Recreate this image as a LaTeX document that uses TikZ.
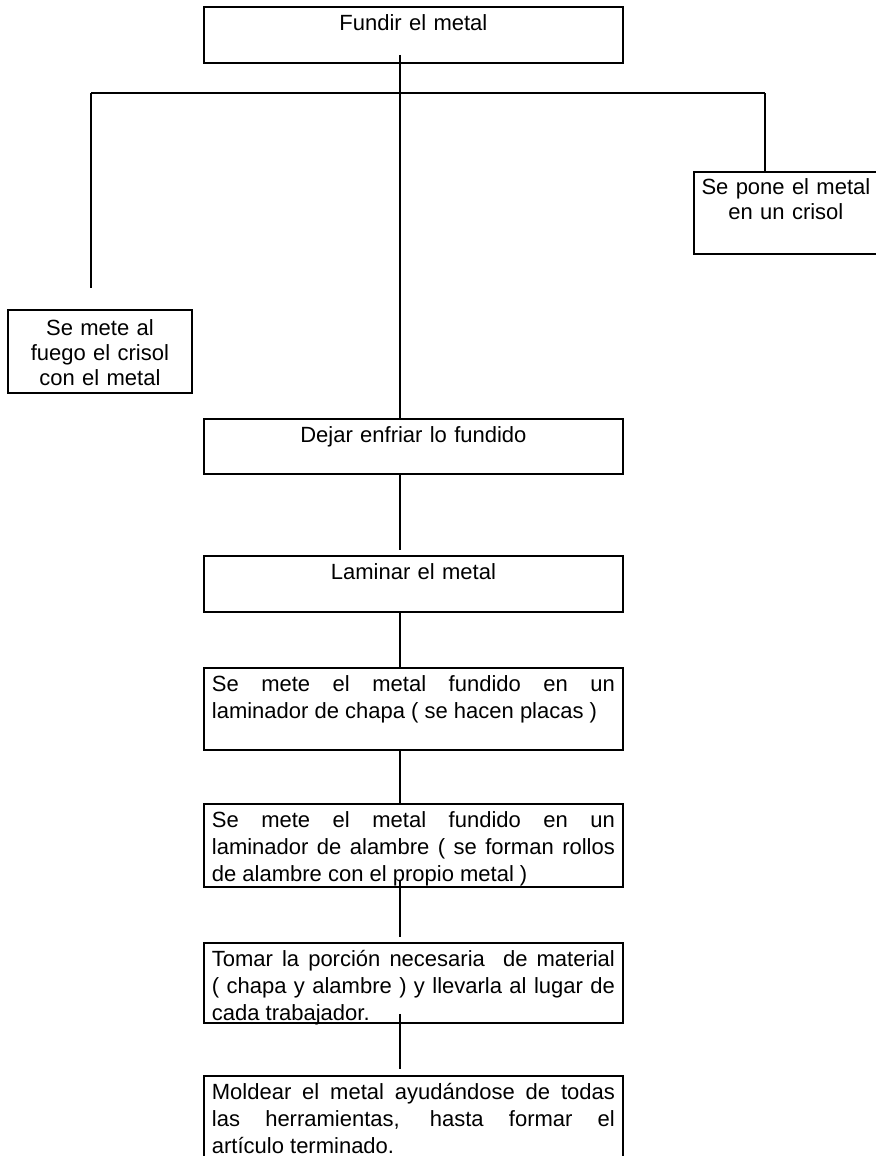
\documentclass[tikz,border=0pt]{standalone}
\usepackage{fontspec}
\setmainfont{Liberation Sans}
\tikzset{>=latex}
\newcommand{\ajuste}{\fontsize{11}{13.5}\selectfont\tolerance=10000\hbadness=10000\hyphenpenalty=10000}
\newcommand{\ajustelado}{\fontsize{11}{12.5}\selectfont\hyphenpenalty=10000}
\tikzset{
  paso/.style={draw, anchor=north west, inner xsep=4pt, inner ysep=4pt, text width=201.5pt, text height=8pt, font=\ajuste},
  lado/.style={paso, inner xsep=1.5pt, text width=89pt, align=center, font=\ajustelado}
}

\begin{document}
\begin{tikzpicture}[x=0.5pt, y=-0.5pt, line width=0.9pt]
		% Page
		\useasboundingbox (0,0) rectangle (876,1156);
		\clip (0,0) rectangle (876,1156);
		
		% Boxes
		\node[paso, align=center, text depth=12pt] (fundir) at (203,6) {Fundir el metal};
		\node[lado, text height=7.5pt, text depth=25.5pt] (crisol) at (693,171) {Se pone el metal\\en un crisol};
		\node[lado, text height=9pt, text depth=24.5pt] (fuego) at (7,309) {Se mete al\\fuego el crisol\\con el metal};
		\node[paso, align=center, text depth=11.5pt] (dejar) at (203,418) {Dejar enfriar lo fundido};
		\node[paso, align=center, text depth=12pt] (laminar) at (203,555) {Laminar el metal};
		\node[paso, align=justify, text depth=25pt] (chapa) at (203,667) {Se mete el metal fundido en un\linebreak laminador de chapa ( se hacen placas )};
		\node[paso, align=justify, text depth=25.5pt] (alambre) at (203,803) {Se mete el metal fundido en un\linebreak laminador de alambre ( se forman rollos\linebreak de alambre con el propio metal )};
		\node[paso, align=justify, text depth=24pt] (tomar) at (203,942) {Tomar la porción necesaria\ \ de material\linebreak ( chapa y alambre ) y llevarla al lugar de\linebreak cada trabajador.};
		\node[paso, align=justify, text depth=28pt] (moldear) at (203,1075) {Moldear el metal ayudándose de todas\linebreak las herramientas, hasta formar el\linebreak artículo terminado.};
		
		% Branch points
		\coordinate (eje) at (400,93);
		\coordinate (ramaI) at (91,93);
		\coordinate (ramaD) at (765,93);
		
		% Lines
		\draw ([yshift=4.5pt]fundir.south -| eje) -- (dejar.north -| eje);
		\draw (ramaI) -- (ramaD);
		\draw (ramaI) -- ([yshift=10.5pt]fuego.north -| ramaI);
		\draw (ramaD) -- (crisol.north -| ramaD);
		\draw (dejar.south -| eje) -- ([yshift=2.5pt]laminar.north -| eje);
		\draw (laminar.south -| eje) -- (chapa.north -| eje);
		\draw (chapa.south -| eje) -- (alambre.north -| eje);
		\draw ([yshift=4pt]alambre.south -| eje) -- ([yshift=2.5pt]tomar.north -| eje);
		\draw ([yshift=5pt]tomar.south -| eje) -- ([yshift=3pt]moldear.north -| eje);
	\end{tikzpicture}
\end{document}
